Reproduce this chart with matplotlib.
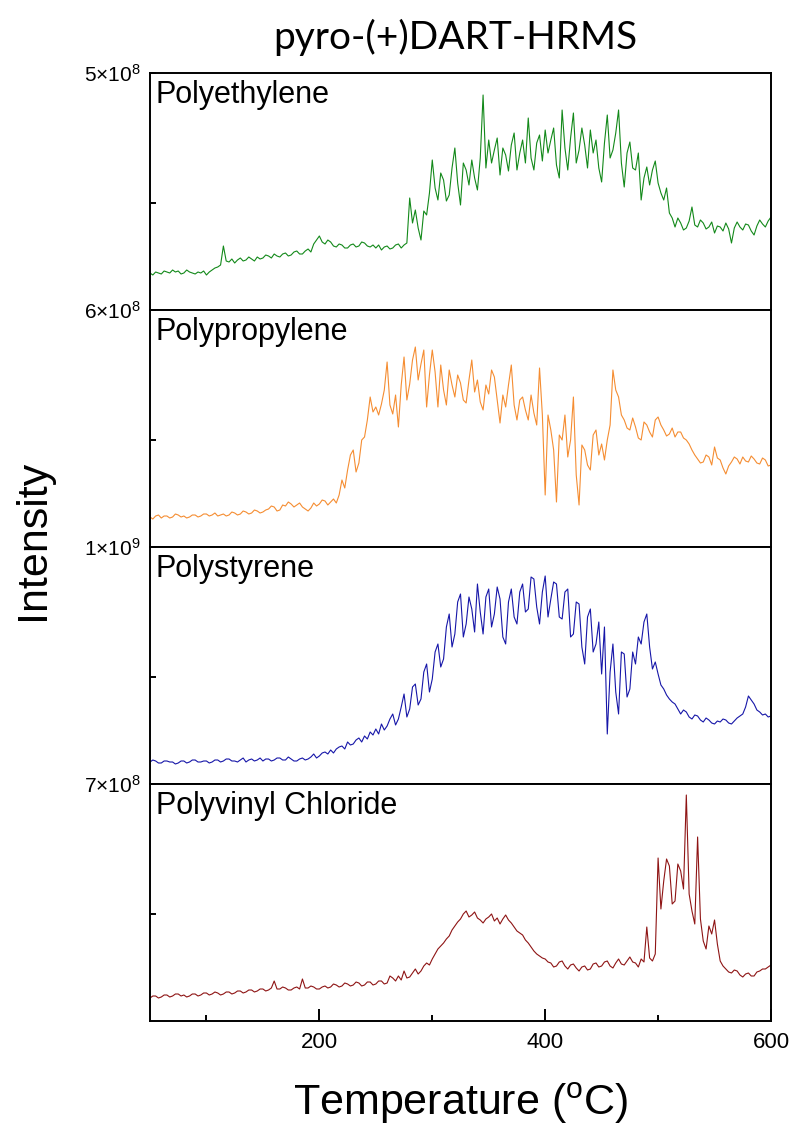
import numpy as np
import matplotlib
matplotlib.use("Agg")
import matplotlib.pyplot as plt
from matplotlib.ticker import FixedLocator

plt.rcParams["font.family"] = ["Liberation Sans", "DejaVu Sans"]
plt.rcParams["mathtext.fontset"] = "custom"
plt.rcParams["mathtext.rm"] = "Liberation Sans"
plt.rcParams["mathtext.it"] = "Liberation Sans:italic"
plt.rcParams["mathtext.bf"] = "Liberation Sans:bold"

# Pyrolysis temperature grid (°C)
temperature = np.arange(50, 601, 2.5)

polymers = ["Polyethylene", "Polypropylene", "Polystyrene", "Polyvinyl Chloride"]
colors = ["#13891a", "#f58d32", "#1616a8", "#8e1414"]

# Total ion intensity, in units of 1e8 counts (four samples per 10 °C row)
pe = [3.00, 2.98, 3.01, 3.00,  2.99, 3.02, 3.01, 3.00,  3.03, 3.01, 3.02, 2.99,
      3.00, 3.03, 3.01, 3.00,  2.99, 3.01, 3.00, 3.02,  2.98, 3.01, 3.03, 3.05,
      3.06, 3.08, 3.27, 3.12,  3.11, 3.14, 3.10, 3.13,  3.15, 3.12, 3.13, 3.16,
      3.14, 3.12, 3.16, 3.14,  3.15, 3.18, 3.17, 3.15,  3.19, 3.17, 3.16, 3.19,
      3.20, 3.17, 3.18, 3.21,  3.22, 3.19, 3.19, 3.22,  3.24, 3.21, 3.29, 3.33,
      3.37, 3.31, 3.29, 3.33,  3.31, 3.27, 3.26, 3.29,  3.28, 3.25, 3.25, 3.28,
      3.29, 3.26, 3.27, 3.31,  3.30, 3.27, 3.26, 3.28,  3.25, 3.28, 3.23, 3.26,
      3.27, 3.24, 3.25, 3.28,  3.29, 3.25, 3.28, 3.30,  3.75, 3.50, 3.63, 3.45,
      3.33, 3.62, 3.58, 3.80,  4.13, 3.85, 3.73, 4.00,  3.93, 3.72, 3.78, 4.05,
      4.25, 3.90, 3.68, 4.10,  4.03, 3.88, 4.13, 3.95,  3.83, 4.15, 4.78, 4.05,
      4.33, 4.10, 4.23, 4.35,  3.98, 4.25, 4.18, 4.02,  4.28, 4.40, 4.03, 4.20,
      4.33, 4.10, 4.55, 4.15,  4.03, 4.30, 4.38, 4.12,  4.43, 4.20, 4.33, 4.45,
      4.08, 3.95, 4.63, 4.25,  4.03, 4.35, 4.60, 4.10,  4.23, 4.45, 4.28, 4.05,
      4.43, 4.20, 4.33, 4.05,  3.91, 4.30, 4.58, 4.15,  4.23, 4.40, 4.63, 4.10,
      3.86, 4.20, 4.31, 4.05,  4.03, 4.20, 3.73, 3.95,  4.06, 3.88, 4.03, 4.12,
      3.90, 3.80, 3.73, 3.85,  3.60, 3.55, 3.46, 3.55,  3.50, 3.43, 3.45, 3.52,
      3.66, 3.48, 3.46, 3.53,  3.50, 3.44, 3.46, 3.51,  3.40, 3.47, 3.46, 3.42,
      3.50, 3.44, 3.30, 3.45,  3.51, 3.46, 3.43, 3.49,  3.48, 3.42, 3.38, 3.47,
      3.53, 3.49, 3.46, 3.52,  3.56]

pp = [3.93, 3.91, 3.94, 3.95,  3.92, 3.94, 3.94, 3.92,  3.93, 3.96, 3.95, 3.93,
      3.94, 3.92, 3.93, 3.95,  3.95, 3.93, 3.94, 3.96,  3.96, 3.94, 3.95, 3.97,
      3.94, 3.95, 3.96, 3.94,  3.95, 3.98, 3.97, 3.95,  3.96, 3.99, 3.98, 3.96,
      3.97, 4.00, 3.99, 3.97,  3.98, 4.00, 4.01, 4.04,  4.03, 3.99, 4.00, 4.05,
      4.04, 4.08, 4.06, 4.03,  4.05, 4.07, 4.03, 4.01,  3.99, 4.02, 4.07, 4.04,
      4.06, 4.10, 4.09, 4.05,  4.08, 4.11, 4.07, 4.15,  4.30, 4.22, 4.40, 4.55,
      4.60, 4.38, 4.47, 4.70,  4.73, 4.90, 5.13, 4.98,  5.03, 4.95, 5.06, 5.20,
      5.48, 5.05, 4.96, 5.15,  4.83, 5.25, 5.53, 5.10,  5.26, 5.50, 5.63, 5.30,
      5.46, 5.60, 5.03, 5.35,  5.60, 5.38, 5.03, 5.45,  5.20, 5.05, 5.40, 5.25,
      5.13, 5.35, 5.27, 5.10,  5.07, 5.30, 5.50, 5.18,  5.30, 5.08, 5.00, 5.25,
      5.16, 5.40, 5.33, 5.10,  4.87, 5.15, 5.03, 5.25,  5.45, 5.05, 4.90, 5.10,
      5.13, 5.00, 4.90, 5.15,  4.97, 4.85, 5.42, 4.95,  4.15, 4.95, 4.80, 4.60,
      4.08, 4.75, 4.70, 4.95,  4.53, 4.70, 5.13, 4.35,  4.05, 4.65, 4.60, 4.45,
      4.40, 4.75, 4.80, 4.55,  4.66, 4.50, 4.70, 4.85,  5.40, 5.20, 5.13, 4.95,
      4.90, 4.82, 4.80, 4.92,  4.83, 4.72, 4.70, 4.88,  4.85, 4.78, 4.73, 4.90,
      4.93, 4.85, 4.80, 4.74,  4.76, 4.82, 4.73, 4.78,  4.78, 4.72, 4.70, 4.66,
      4.60, 4.55, 4.51, 4.47,  4.48, 4.55, 4.53, 4.45,  4.63, 4.52, 4.50, 4.42,
      4.36, 4.44, 4.48, 4.53,  4.51, 4.46, 4.53, 4.49,  4.48, 4.54, 4.51, 4.47,
      4.46, 4.52, 4.50, 4.44,  4.45]

ps = [7.85, 7.87, 7.86, 7.84,  7.84, 7.86, 7.86, 7.85,  7.85, 7.83, 7.84, 7.86,
      7.86, 7.84, 7.85, 7.87,  7.87, 7.85, 7.85, 7.86,  7.86, 7.84, 7.85, 7.87,
      7.87, 7.85, 7.86, 7.88,  7.88, 7.86, 7.86, 7.85,  7.87, 7.89, 7.85, 7.87,
      7.88, 7.86, 7.87, 7.89,  7.86, 7.88, 7.88, 7.86,  7.87, 7.89, 7.89, 7.87,
      7.87, 7.90, 7.88, 7.86,  7.86, 7.88, 7.89, 7.87,  7.88, 7.90, 7.93, 7.89,
      7.91, 7.94, 7.95, 7.93,  7.97, 7.94, 7.98, 8.00,  8.01, 7.98, 8.05, 8.02,
      8.03, 8.07, 8.09, 8.05,  8.11, 8.08, 8.15, 8.12,  8.18, 8.13, 8.23, 8.17,
      8.21, 8.28, 8.33, 8.22,  8.28, 8.40, 8.53, 8.30,  8.38, 8.60, 8.63, 8.42,
      8.48, 8.75, 8.83, 8.55,  8.68, 8.95, 9.03, 8.80,  8.88, 9.20, 9.33, 9.00,
      9.13, 9.45, 9.53, 9.10,  9.23, 9.50, 9.38, 9.15,  9.63, 9.35, 9.13, 9.50,
      9.58, 9.20, 9.33, 9.60,  9.48, 9.10, 9.03, 9.45,  9.58, 9.30, 9.23, 9.55,
      9.63, 9.35, 9.38, 9.70,  9.68, 9.40, 9.23, 9.55,  9.71, 9.30, 9.48, 9.65,
      9.63, 9.30, 9.28, 9.55,  9.58, 9.10, 9.13, 9.45,  9.43, 9.00, 8.83, 9.30,
      9.38, 8.95, 9.03, 9.25,  8.73, 9.20, 8.13, 8.75,  9.03, 8.55, 8.33, 8.95,
      8.93, 8.50, 8.58, 8.95,  8.83, 9.10, 9.03, 9.25,  9.33, 9.00, 8.78, 8.85,
      8.73, 8.62, 8.58, 8.52,  8.48, 8.45, 8.43, 8.38,  8.33, 8.37, 8.35, 8.30,
      8.28, 8.32, 8.31, 8.27,  8.25, 8.29, 8.27, 8.24,  8.23, 8.26, 8.25, 8.28,
      8.27, 8.24, 8.23, 8.26,  8.29, 8.31, 8.33, 8.40,  8.51, 8.47, 8.43, 8.37,
      8.35, 8.32, 8.33, 8.30,  8.31]

pvc = [4.86, 4.88, 4.88, 4.86,  4.87, 4.89, 4.89, 4.87,  4.88, 4.90, 4.90, 4.88,
       4.89, 4.87, 4.88, 4.90,  4.90, 4.88, 4.89, 4.91,  4.91, 4.89, 4.90, 4.92,
       4.91, 4.89, 4.90, 4.92,  4.92, 4.90, 4.91, 4.93,  4.93, 4.91, 4.92, 4.94,
       4.94, 4.92, 4.93, 4.95,  4.95, 4.93, 4.94, 4.96,  5.03, 4.95, 4.95, 4.97,
       4.96, 4.94, 4.94, 4.96,  4.97, 4.95, 5.05, 4.96,  4.96, 4.98, 4.97, 4.95,
       4.95, 4.97, 4.98, 4.96,  4.97, 5.00, 4.99, 4.97,  4.98, 5.01, 5.00, 4.98,
       4.99, 5.02, 5.01, 4.98,  4.99, 5.02, 5.02, 4.99,  5.00, 5.03, 5.03, 5.00,
       5.01, 5.08, 5.06, 5.03,  5.08, 5.04, 5.13, 5.06,  5.07, 5.11, 5.15, 5.10,
       5.13, 5.18, 5.21, 5.19,  5.25, 5.30, 5.35, 5.38,  5.41, 5.45, 5.48, 5.54,
       5.58, 5.62, 5.65, 5.70,  5.73, 5.67, 5.69, 5.72,  5.66, 5.64, 5.61, 5.65,
       5.67, 5.70, 5.63, 5.66,  5.60, 5.65, 5.69, 5.64,  5.61, 5.57, 5.53, 5.51,
       5.49, 5.44, 5.41, 5.37,  5.33, 5.30, 5.28, 5.26,  5.25, 5.22, 5.21, 5.17,
       5.18, 5.22, 5.23, 5.18,  5.15, 5.19, 5.20, 5.16,  5.13, 5.17, 5.18, 5.14,
       5.15, 5.20, 5.21, 5.17,  5.18, 5.22, 5.23, 5.18,  5.16, 5.21, 5.25, 5.20,
       5.19, 5.23, 5.27, 5.22,  5.21, 5.17, 5.25, 5.22,  5.57, 5.26, 5.23, 5.30,
       6.26, 5.75, 6.03, 6.25,  6.18, 5.80, 5.83, 6.20,  6.13, 5.95, 6.89, 5.90,
       5.73, 5.60, 6.47, 5.65,  5.43, 5.35, 5.58, 5.50,  5.64, 5.40, 5.23, 5.18,
       5.15, 5.12, 5.11, 5.14,  5.13, 5.09, 5.07, 5.10,  5.11, 5.08, 5.08, 5.12,
       5.13, 5.15, 5.15, 5.17,  5.19]

series = [pe, pp, ps, pvc]

# Upper limit of each panel (x1e8) and its tick label
panel_top = [5.0, 6.0, 10.0, 7.0]
top_labels = [r"$\mathregular{5{\times}10^{8}}$", r"$\mathregular{6{\times}10^{8}}$",
              r"$\mathregular{1{\times}10^{9}}$", r"$\mathregular{7{\times}10^{8}}$"]
span = 2.37  # vertical range of each panel (x1e8)

W, H = 796, 1130
fig = plt.figure(figsize=(W / 100, H / 100), dpi=100)

left_px, right_px = 150, 771
top_px, panel_h = 73, 237

axes = []
for i, (name, vals, col, hi, lab) in enumerate(
        zip(polymers, series, colors, panel_top, top_labels)):
    y0 = top_px + panel_h * (i + 1)
    ax = fig.add_axes([left_px / W, 1 - y0 / H, (right_px - left_px) / W, panel_h / H])
    ax.plot(temperature, np.asarray(vals) * 1e8, color=col, lw=0.8)
    ax.set_xlim(50, 600)
    lo = hi - span
    ax.set_ylim(lo * 1e8, hi * 1e8)
    ax.set_yticks([hi * 1e8])
    ax.set_yticklabels([lab])
    ax.yaxis.set_minor_locator(FixedLocator([(lo + 0.45 * span) * 1e8]))
    ax.tick_params(axis="y", which="both", direction="in", length=4.5, width=1.4,
                   labelsize=15, pad=7)
    for s in ax.spines.values():
        s.set_linewidth(1.4)
    ax.text(0.009, 0.872, name, transform=ax.transAxes, fontsize=22,
            ha="left", va="baseline")
    axes.append(ax)

for ax in axes[:-1]:
    ax.tick_params(axis="x", which="both", bottom=False, labelbottom=False)

bax = axes[-1]
bax.set_xticks([200, 400, 600])
bax.xaxis.set_minor_locator(FixedLocator([100, 300, 500]))
bax.tick_params(axis="x", which="major", direction="in", length=8.5, width=1.4,
                labelsize=16, pad=8)
bax.tick_params(axis="x", which="minor", direction="in", length=4.5, width=1.4)

fig.text(455 / W, 1 - 37 / H, "pyro-(+)DART-HRMS", ha="center", va="center",
         fontsize=28, family=["Lato", "DejaVu Sans"])
fig.text(461 / W, 1 - 1103 / H, r"Temperature ($\mathregular{^{o}}$C)",
         ha="center", va="center", fontsize=31)
fig.text(33 / W, 1 - 540 / H, "Intensity", ha="center", va="center",
         rotation=90, fontsize=31)

fig.savefig("out.png", dpi=100)
